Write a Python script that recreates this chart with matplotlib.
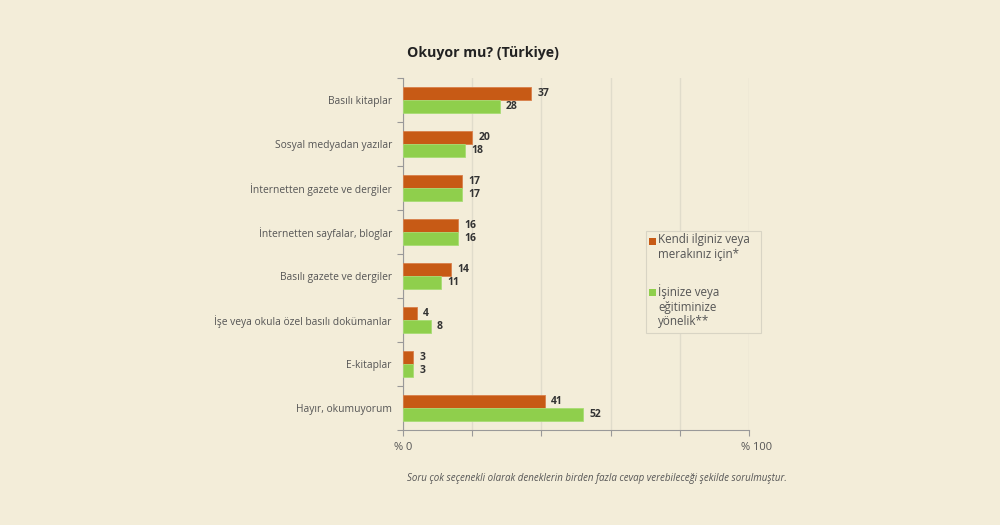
import matplotlib.pyplot as plt
import numpy as np
from matplotlib.patches import Rectangle
import matplotlib.transforms as mtransforms

categories = ["Basılı kitaplar", "Sosyal medyadan yazılar", "İnternetten gazete ve dergiler",
              "İnternetten sayfalar, bloglar", "Basılı gazete ve dergiler",
              "İşe veya okula özel basılı dokümanlar", "E-kitaplar", "Hayır, okumuyorum"]
kendi = [37, 20, 17, 16, 14, 4, 3, 41]
isiniz = [28, 18, 17, 16, 11, 8, 3, 52]
series_labels = ["Kendi ilginiz veya\nmerakınız için*", "İşinize veya\neğitiminize\nyönelik**"]
xtick_vals = [0, 20, 40, 60, 80, 100]
xtick_labels = ["% 0", "", "", "", "", "% 100"]
title = "Okuyor mu? (Türkiye)"
footnote = "Soru çok seçenekli olarak deneklerin birden fazla cevap verebileceği şekilde sorulmuştur."

bg = "#f3edd9"
orange = "#c75a15"
green = "#8fcf4c"
txt = "#555555"

plt.rcParams['font.family'] = ['Open Sans', 'DejaVu Sans']

W, H = 1000, 525
fig = plt.figure(figsize=(10, 5.25), dpi=100, facecolor=bg)
ax = fig.add_axes([0.403, 0.181, 0.346, 0.670])
ax.set_facecolor(bg)

n = len(categories)
y = np.arange(n)
h = 0.3
ax.barh(y - h/2, kendi, height=h, color=orange, edgecolor="#d9804a", linewidth=0.6, zorder=3)
ax.barh(y + h/2, isiniz, height=h, color=green, edgecolor="#a8dc74", linewidth=0.6, zorder=3)

for i in range(n):
    ax.text(kendi[i] + 1.8, y[i] - h/2, str(kendi[i]), va='center', ha='left',
            fontsize=7.5, fontweight='bold', color="#333333")
    ax.text(isiniz[i] + 1.8, y[i] + h/2, str(isiniz[i]), va='center', ha='left',
            fontsize=7.5, fontweight='bold', color="#333333")

ax.set_ylim(n - 0.5, -0.5)
ax.set_xlim(0, 100)
ax.set_yticks(np.arange(-0.5, n, 1), minor=False)
ax.set_yticklabels([])
ax.set_yticks(y, minor=True)
ax.set_yticklabels(categories, minor=True, fontsize=7.4, color=txt)
ax.tick_params(axis='y', which='minor', length=0, pad=8)
ax.tick_params(axis='y', which='major', length=4, direction='out', color="#999999", width=0.8)

ax.set_xticks(xtick_vals)
ax.set_xticklabels(xtick_labels, fontsize=8, color=txt)
ax.tick_params(axis='x', length=4, direction='out', color="#999999", width=0.8, pad=5)
lbl = ax.get_xticklabels()[-1]
lbl.set_transform(lbl.get_transform() + mtransforms.ScaledTranslation(8/100, 0, fig.dpi_scale_trans))

ax.grid(axis='x', color="#e0dccb", linewidth=1.0, zorder=0)
for s in ['top', 'right']:
    ax.spines[s].set_visible(False)
for s in ['left', 'bottom']:
    ax.spines[s].set_color("#999999")
    ax.spines[s].set_linewidth(0.8)

fig.text(0.483, 0.90, title, ha='center', va='center', fontsize=10.2, fontweight='bold', color="#222222")
fig.text(0.597, 0.089, footnote, ha='center', va='center', fontsize=7.0, style='italic', color=txt)

# manual legend (pixel layout converted to figure fractions)
def fx(px): return px / W
def fy(py): return 1 - py / H

fig.patches.append(Rectangle((fx(646), fy(333)), fx(761) - fx(646), fy(231) - fy(333),
                             transform=fig.transFigure, facecolor=bg, edgecolor="#d8d4c4",
                             linewidth=0.8, zorder=5))
leg_colors = [orange, green]
leg_sq_top = [238, 289]
for c, top, lab in zip(leg_colors, leg_sq_top, series_labels):
    fig.patches.append(Rectangle((fx(649), fy(top + 7)), fx(7), 7 / H, transform=fig.transFigure,
                                 facecolor=c, edgecolor='none', zorder=6))
    fig.text(fx(658), fy(top - 4.5), lab, ha='left', va='top', fontsize=8.4, color=txt,
             linespacing=1.12, zorder=6)

fig.savefig("out.png", dpi=100, facecolor=bg)
